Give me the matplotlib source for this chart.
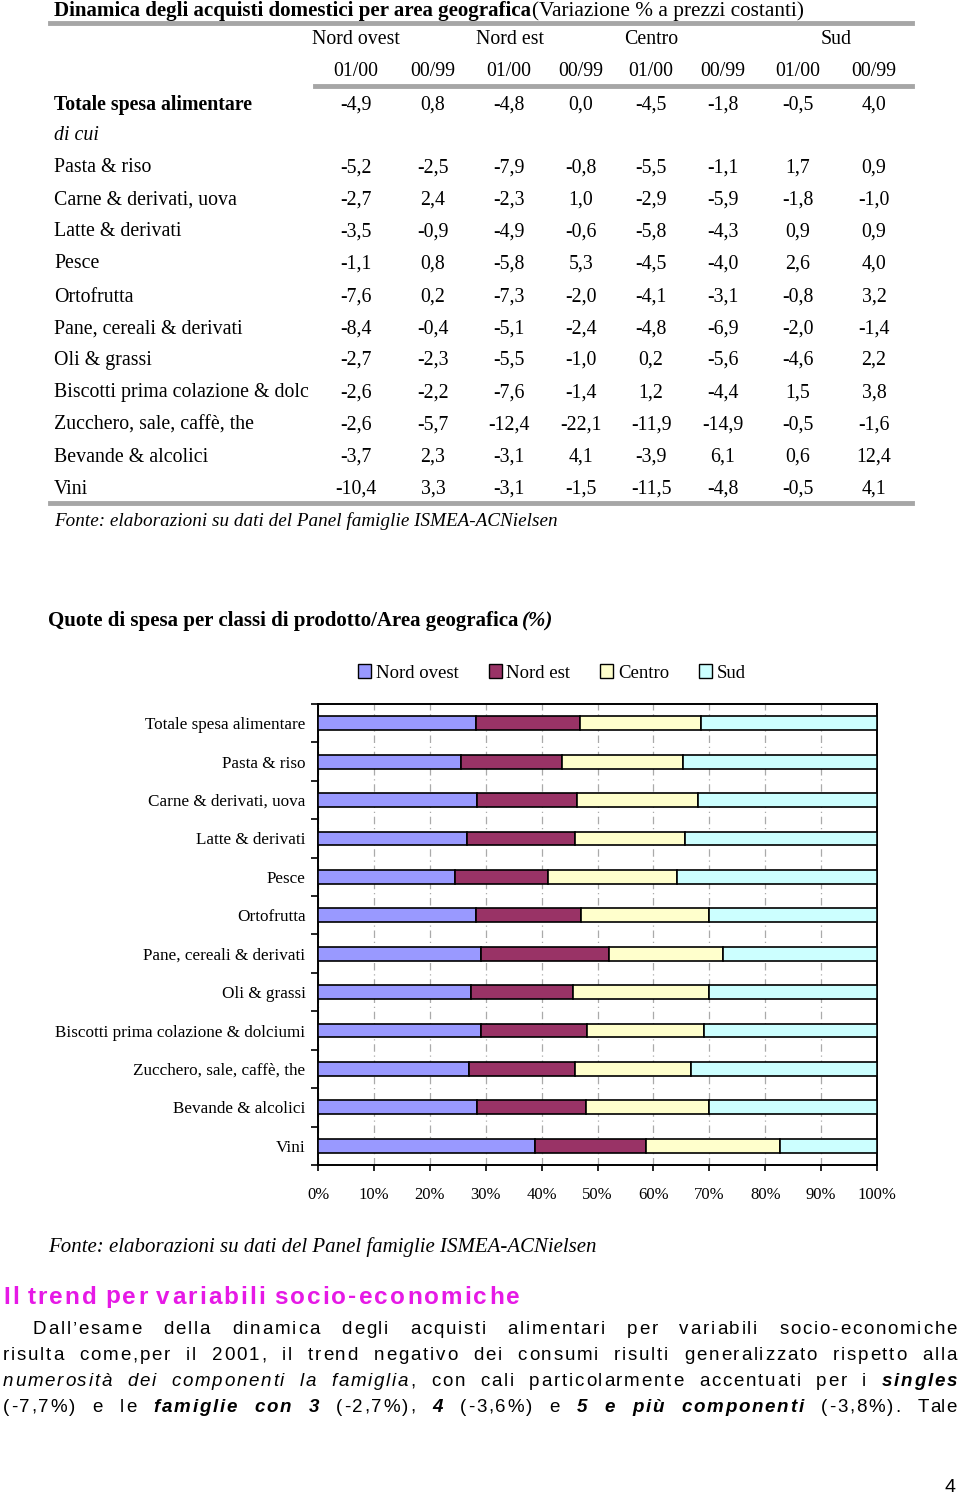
import matplotlib
matplotlib.use('Agg')
import matplotlib.pyplot as plt
from matplotlib.lines import Line2D
from matplotlib.patches import Patch
from matplotlib.font_manager import FontProperties

W, H = 960, 1496

# Tabella: variazione % a prezzi costanti
aree = ["Nord ovest", "Nord est", "Centro", "Sud"]
periodi = ["01/00", "00/99"]
righe_tabella = ["Totale spesa alimentare", "di cui", "Pasta & riso", "Carne & derivati, uova",
                 "Latte & derivati", "Pesce", "Ortofrutta", "Pane, cereali & derivati",
                 "Oli & grassi", "Biscotti prima colazione & dolc", "Zucchero, sale, caffè, the",
                 "Bevande & alcolici", "Vini"]
variazioni = [
    [-4.9, 0.8, -4.8, 0.0, -4.5, -1.8, -0.5, 4.0],
    None,
    [-5.2, -2.5, -7.9, -0.8, -5.5, -1.1, 1.7, 0.9],
    [-2.7, 2.4, -2.3, 1.0, -2.9, -5.9, -1.8, -1.0],
    [-3.5, -0.9, -4.9, -0.6, -5.8, -4.3, 0.9, 0.9],
    [-1.1, 0.8, -5.8, 5.3, -4.5, -4.0, 2.6, 4.0],
    [-7.6, 0.2, -7.3, -2.0, -4.1, -3.1, -0.8, 3.2],
    [-8.4, -0.4, -5.1, -2.4, -4.8, -6.9, -2.0, -1.4],
    [-2.7, -2.3, -5.5, -1.0, 0.2, -5.6, -4.6, 2.2],
    [-2.6, -2.2, -7.6, -1.4, 1.2, -4.4, 1.5, 3.8],
    [-2.6, -5.7, -12.4, -22.1, -11.9, -14.9, -0.5, -1.6],
    [-3.7, 2.3, -3.1, 4.1, -3.9, 6.1, 0.6, 12.4],
    [-10.4, 3.3, -3.1, -1.5, -11.5, -4.8, -0.5, 4.1],
]

# Grafico: quote di spesa (%) per area
categorie = ["Totale spesa alimentare", "Pasta & riso", "Carne & derivati, uova", "Latte & derivati",
             "Pesce", "Ortofrutta", "Pane, cereali & derivati", "Oli & grassi",
             "Biscotti prima colazione & dolciumi", "Zucchero, sale, caffè, the",
             "Bevande & alcolici", "Vini"]
nord_ovest = [28.2, 25.5, 28.4, 26.7, 24.5, 28.2, 29.2, 27.3, 29.2, 27.1, 28.4, 38.8]
nord_est = [18.6, 18.2, 18.0, 19.3, 16.6, 18.9, 22.9, 18.4, 19.0, 18.9, 19.5, 19.9]
centro = [21.7, 21.6, 21.5, 19.6, 23.1, 22.8, 20.4, 24.2, 20.8, 20.8, 22.0, 23.9]
sud = [31.5, 34.7, 32.1, 34.4, 35.8, 30.1, 27.5, 30.1, 31.0, 33.2, 30.1, 17.4]
colori = ["#9999FF", "#993366", "#FFFFCC", "#CCFFFF"]

serif = "Liberation Serif"
sans = "Liberation Sans"

fig = plt.figure(figsize=(W / 100, H / 100), dpi=100)
renderer = fig.canvas.get_renderer()


def fx(x):
    return x / W


def fy(y):
    return 1 - y / H


def testo(x, y, s, **kw):
    return fig.text(fx(x), fy(y), s, **kw)


def larghezza(s, prop):
    return renderer.get_text_width_height_descent(s, prop, ismath=False)[0]


def adatta(x, y, s, target, prop):
    # sceglie la dimensione del carattere per occupare "target" pixel
    prop = prop.copy()
    prop.set_size(prop.get_size() * target / larghezza(s, prop))
    testo(x, y, s, fontproperties=prop, va="center")
    return x + larghezza(s, prop)


def riga_grigia(x0, x1, y, lw=3.5):
    fig.add_artist(Line2D([fx(x0), fx(x1)], [fy(y), fy(y)], color="#A6A6A6", lw=lw,
                          transform=fig.transFigure))


# ---- Tabella ----
fine = adatta(54, 11, "Dinamica degli acquisti domestici per area geografica", 479,
              FontProperties(family=serif, weight="bold", size=14))
adatta(fine + 1, 11, "(Variazione % a prezzi costanti)", 272, FontProperties(family=serif, size=14))
riga_grigia(50, 912, 23)

x_aree = [356, 510, 651, 836]
for a, x in zip(aree, x_aree):
    testo(x, 40, a, family=serif, fontsize=14.3, ha="center", va="center")
x_col = [356, 433, 509, 581, 651, 723, 798, 874]
for i, x in enumerate(x_col):
    testo(x, 72, periodi[i % 2], family=serif, fontsize=14.3, ha="center", va="center")
riga_grigia(315, 912, 86)

y_righe = [105, 136, 168, 200, 232, 264, 297, 329, 360, 393, 425, 457, 489]
for nome, valori, y in zip(righe_tabella, variazioni, y_righe):
    if nome == "Totale spesa alimentare":
        testo(54, y, nome, family=serif, weight="bold", fontsize=14.3, va="center")
    elif nome == "di cui":
        testo(54, y, nome, family=serif, style="italic", fontsize=14.3, va="center")
    else:
        testo(54, y, nome, family=serif, fontsize=14.3, va="center")
    if valori:
        for v, x in zip(valori, x_col):
            testo(x, y, f"{v:.1f}".replace(".", ","), family=serif, fontsize=14.3,
                  ha="center", va="center")
riga_grigia(50, 912, 503)
adatta(54, 521, "Fonte: elaborazioni su dati del Panel famiglie ISMEA-ACNielsen", 500,
       FontProperties(family=serif, style="italic", size=13))

# ---- Grafico a barre ----
fine = adatta(48, 621, "Quote di spesa per classi di prodotto/Area geografica", 472,
              FontProperties(family=serif, weight="bold", size=14))
testo(fine + 4, 621, "(%)", family=serif, weight="bold", style="italic", fontsize=15,
      va="center")

ax = fig.add_axes([fx(318), fy(1165), fx(877) - fx(318), (1165 - 704) / H])
pos = list(range(len(categorie)))
sinistra = [0] * len(categorie)
for serie, col, nome in zip([nord_ovest, nord_est, centro, sud], colori, aree):
    ax.barh(pos, serie, left=sinistra, height=0.36, color=col, edgecolor="black", lw=1.2,
            label=nome, zorder=3)
    sinistra = [s + v for s, v in zip(sinistra, serie)]

ax.set_xlim(0, 100)
ax.set_ylim(len(categorie) - 0.5, -0.5)
ax.set_xticks(range(0, 101, 10))
ax.set_xticklabels([f"{t}%" for t in range(0, 101, 10)], family=serif, fontsize=12)
ax.tick_params(axis="x", length=4, width=1.2, pad=12)
ax.set_yticks([p - 0.5 for p in pos] + [len(categorie) - 0.5])
ax.set_yticklabels([])
ax.tick_params(axis="y", which="major", length=5, width=1.2)
ax.set_yticks(pos, minor=True)
ax.set_yticklabels(categorie, minor=True, family=serif, fontsize=12.3)
ax.tick_params(axis="y", which="minor", length=0, pad=9)
ax.xaxis.grid(True, color="#AAAAAA", lw=0.9, ls=(0, (6, 3, 1, 3)), zorder=0)
for s in ax.spines.values():
    s.set_linewidth(1.4)

maniglie = [Patch(facecolor=c, edgecolor="black", lw=1.0) for c in colori]
fig.legend(maniglie, aree, loc="center", bbox_to_anchor=(fx(552), fy(673)), ncol=4,
           frameon=False, prop={"family": serif, "size": 13.5}, handlelength=0.7,
           handleheight=0.7, handletextpad=0.25, columnspacing=1.6)

adatta(48, 1247, "Fonte: elaborazioni su dati del Panel famiglie ISMEA-ACNielsen", 550,
       FontProperties(family=serif, style="italic", size=15))

# ---- Testo con spaziatura tra le lettere ----


def parola(s, x, y, prop, track, colore="black"):
    for k, c in enumerate(s):
        xc = x + larghezza(s[:k], prop) + k * track if k else x
        testo(xc, y, c, fontproperties=prop, va="center", color=colore)


def larghezza_parola(s, prop, track):
    return larghezza(s, prop) + (len(s) - 1) * track


prop_titolo = FontProperties(family=sans, weight="bold", size=17.5)
x = 3
for p in "Il trend per variabili socio-economiche".split():
    parola(p, x, 1297, prop_titolo, 2.1, "#E619E6")
    x += larghezza_parola(p, prop_titolo, 2.1) + larghezza(" ", prop_titolo) + 2.1

N, I, B, BI = "n", "i", "b", "bi"
paragrafo = [
    (33, [("Dall’esame", N), ("della", N), ("dinamica", N), ("degli", N), ("acquisti", N),
          ("alimentari", N), ("per", N), ("variabili", N), ("socio-economiche", N)]),
    (3, [("risulta", N), ("come,per", N), ("il", N), ("2001,", N), ("il", N), ("trend", N),
         ("negativo", N), ("dei", N), ("consumi", N), ("risulti", N), ("generalizzato", N),
         ("rispetto", N), ("alla", N)]),
    (3, [("numerosità", I), ("dei", I), ("componenti", I), ("la", I), ("famiglia", I), (",", N),
         ("con", N), ("cali", N), ("particolarmente", N), ("accentuati", N), ("per", N), ("i", N),
         ("singles", BI)]),
    (3, [("(-7,7%)", N), ("e", N), ("le", N), ("famiglie", BI), ("con", BI), ("3", BI),
         ("(-2,7%),", N), ("4", BI), ("(-3,6%)", N), ("e", N), ("5", BI), ("e", BI), ("più", BI),
         ("componenti", BI), ("(-3,8%).", N), ("Tale", N)]),
]
y_par = [1330, 1356, 1382, 1407]
traccia = 1.8

for (x0, parole), y in zip(paragrafo, y_par):
    props = [FontProperties(family=sans, size=13.5,
                            weight="bold" if "b" in st else "normal",
                            style="italic" if "i" in st else "normal") for _, st in parole]
    larg = [larghezza_parola(p, pr, traccia) for (p, _), pr in zip(parole, props)]
    # la virgola dopo "famiglia" resta attaccata
    spazi = [0.15 if p == "," else 1 for p, _ in parole[1:]]
    gap = (957 - x0 - sum(larg)) / sum(spazi)
    x = x0
    for k, ((p, _), pr, w) in enumerate(zip(parole, props, larg)):
        if k > 0:
            x += gap * spazi[k - 1]
        parola(p, x, y, pr, traccia)
        x += w

testo(950, 1487, "4", family=sans, fontsize=14, ha="center", va="center")

fig.savefig("out.png", dpi=100)
